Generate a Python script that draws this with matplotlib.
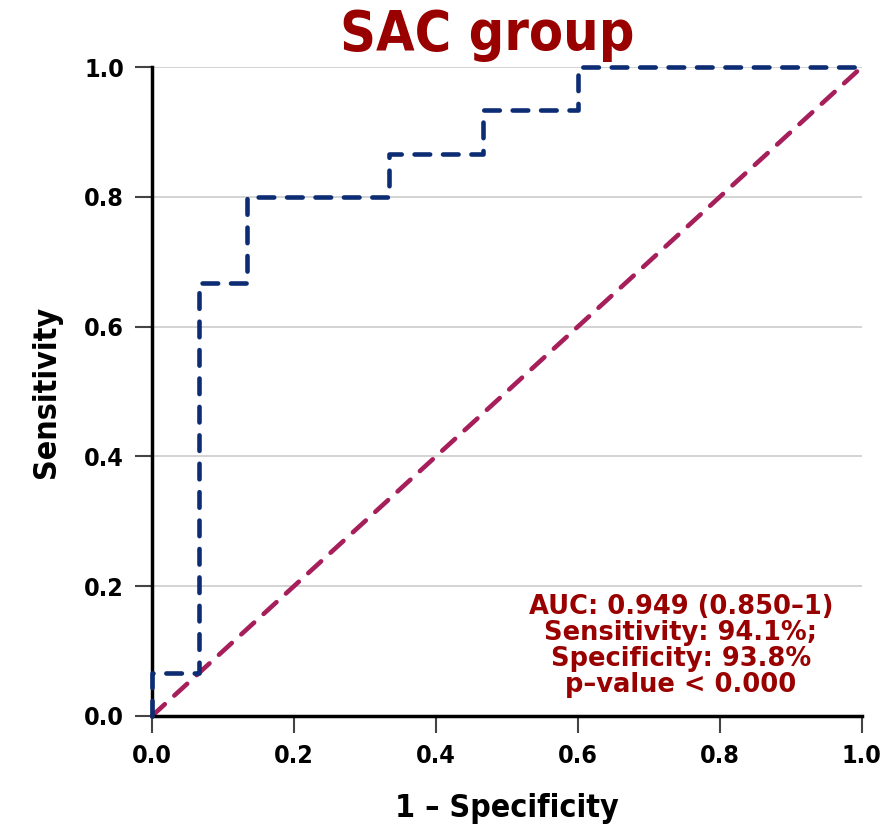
import matplotlib.pyplot as plt
from matplotlib import font_manager

# ROC curve points (1 - specificity, sensitivity)
fpr = [0.0, 0.0, 0.0667, 0.0667, 0.1333, 0.1333, 0.3333, 0.3333, 0.4667, 0.4667, 0.6, 0.6, 1.0]
tpr = [0.0, 0.0667, 0.0667, 0.6667, 0.6667, 0.8, 0.8, 0.8667, 0.8667, 0.9333, 0.9333, 1.0, 1.0]
ref_line = [0.0, 1.0]
ticks = [0.0, 0.2, 0.4, 0.6, 0.8, 1.0]
tick_labels = ['0.0', '0.2', '0.4', '0.6', '0.8', '1.0']

stats_text = "AUC: 0.949 (0.850\u20131)\nSensitivity: 94.1%;\nSpecificity: 93.8%\np\u2013value < 0.000"

# condensed bold face for title, ticks and axis labels
cond = font_manager.FontProperties(family='DejaVu Sans', weight='bold', stretch='condensed')

dark_red = '#990000'

fig = plt.figure(figsize=(8.94, 8.33), dpi=100)
ax = fig.add_axes([0.170, 0.1405, 0.794, 0.779])

ax.set_xlim(0, 1)
ax.set_ylim(0, 1)

for t in ticks[1:]:
    ax.axhline(t, color='#cccccc', lw=1.2, zorder=0)

ax.plot(ref_line, ref_line, color='#a61e5a', lw=3.3, dashes=(3.8, 2.8),
        dash_capstyle='round', zorder=2, clip_on=False)
ax.plot(fpr, tpr, color='#0c2c74', lw=3.3, dashes=(3.4, 2.8),
        dash_capstyle='round', zorder=3, clip_on=False)

for side in ['top', 'right']:
    ax.spines[side].set_visible(False)
for side in ['left', 'bottom']:
    ax.spines[side].set_linewidth(2.5)
    ax.spines[side].set_color('black')

ax.set_xticks(ticks)
ax.set_yticks(ticks)
ax.set_xticklabels(tick_labels, fontproperties=cond, fontsize=18)
ax.set_yticklabels(tick_labels, fontproperties=cond, fontsize=18)
ax.tick_params(axis='both', direction='out', length=12, width=1.5, color='#444444', pad=8)

lab = cond.copy()
lab.set_size(23)
ax.set_xlabel('1 \u2013 Specificity', fontproperties=lab, labelpad=18)
ax.set_ylabel('Sensitivity', fontproperties=lab, labelpad=16)

ax.text(0.745, 0.108, stats_text, transform=ax.transAxes, ha='center', va='center',
        color=dark_red, fontsize=18.5, fontweight='bold', linespacing=1.0)

tit = cond.copy()
tit.set_size(40)
fig.text(0.545, 0.958, 'SAC group', ha='center', va='center', color=dark_red,
         fontproperties=tit)

fig.savefig('out.png', dpi=100)
